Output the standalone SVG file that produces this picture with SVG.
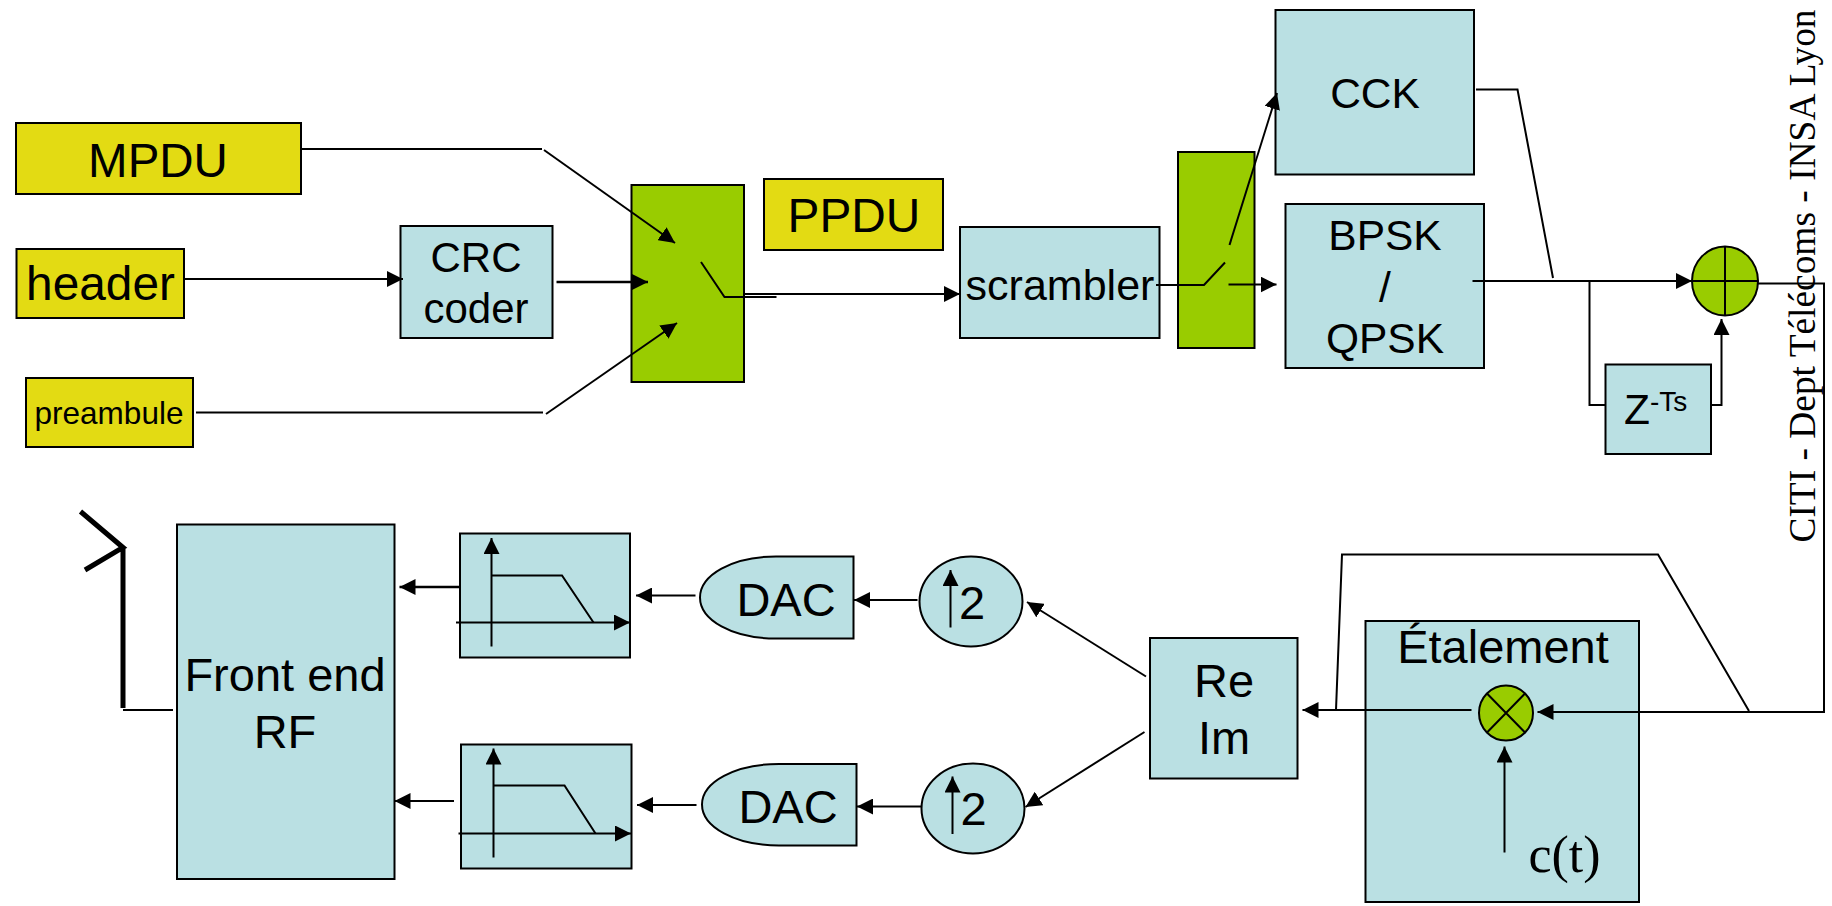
<svg xmlns="http://www.w3.org/2000/svg" width="1832" height="906" viewBox="0 0 1832 906">
<style>
text{font-family:"Liberation Sans",Arial,sans-serif;font-size:47px;fill:#000;text-anchor:middle}
.y{fill:#E3DB13;stroke:#000;stroke-width:2}
.b{fill:#BAE0E3;stroke:#000;stroke-width:2}
.g{fill:#99CC00;stroke:#000;stroke-width:2}
.l{fill:none;stroke:#000;stroke-width:2}
.a{marker-end:url(#h)}
.t{stroke-width:2.500}
.m{font-size:42.500px}
</style>
<defs>
<marker id="h" markerUnits="userSpaceOnUse" markerWidth="18" markerHeight="16" refX="16" refY="8" orient="auto"><path d="M0 0L16 8L0 16Z" fill="#000"/></marker>
</defs>
<rect width="1832" height="906" fill="#fff"/>
<g id="mpdu"><rect class="y" x="16" y="123" width="285" height="71"/><text x="158" y="177" style="font-size:47.500px">MPDU</text></g>
<g id="header"><rect class="y" x="16.500" y="249" width="167.500" height="69"/><text x="100.500" y="300" style="font-size:47.800px">header</text></g>
<g id="preambule"><rect class="y" x="26" y="378" width="167" height="69"/><text x="109" y="424" style="font-size:31.500px">preambule</text></g>
<g id="crc"><rect class="b" x="400.500" y="226" width="152" height="112"/><text x="476" y="272" style="font-size:42px">CRC</text><text x="476" y="323" style="font-size:42px">coder</text></g>
<g id="mux1"><rect class="g" x="631.500" y="185" width="112.500" height="197"/></g>
<g id="ppdu"><rect class="y" x="764" y="179" width="179" height="71"/><text x="854" y="232" style="font-size:47.800px">PPDU</text></g>
<g id="scrambler"><rect class="b" x="960" y="227" width="199.500" height="111"/><text x="1060" y="300" style="font-size:43px">scrambler</text></g>
<g id="mux2"><rect class="g" x="1178" y="152" width="76.500" height="196"/></g>
<g id="cck"><rect class="b" x="1275.500" y="10" width="198.500" height="164.500"/><text class="m" x="1375" y="108">CCK</text></g>
<g id="bpsk"><rect class="b" x="1285.500" y="204" width="198.500" height="164"/><text class="m" x="1385" y="250">BPSK</text><text class="m" x="1385" y="302">/</text><text class="m" x="1385" y="353">QPSK</text></g>
<g id="adder"><ellipse class="g" cx="1725" cy="281" rx="33" ry="34.500"/><path class="l" d="M1692 281H1758M1725 246.500V315.500"/></g>
<g id="delay"><rect class="b" x="1605.500" y="364.500" width="105.500" height="89.500"/><text class="m" x="1624" y="424" style="text-anchor:start">Z<tspan dy="-13" style="font-size:28px">-Ts</tspan></text></g>
<g id="front-end"><rect class="b" x="177" y="524.500" width="217.500" height="354.500"/><text x="285" y="691">Front end</text><text x="285" y="748">RF</text></g>
<g id="antenna"><path d="M80.500 511.500L123 547.500L85 570M123 547.500V708" fill="none" stroke="#000" stroke-width="5"/></g>
<g id="filter1"><rect class="b" x="460" y="533.500" width="170" height="124"/><path class="l a" d="M491.500 646.500V538"/><path class="l a" d="M456 622.500H630"/><path class="l" d="M491.500 575.500H562L593.500 622.500"/></g>
<g id="filter2"><rect class="b" x="461" y="744.500" width="170.500" height="124"/><path class="l a" d="M493.500 857.500V748.500"/><path class="l a" d="M458.500 833.500H631"/><path class="l" d="M493.500 785.500H564.500L595.500 833.500"/></g>
<g id="dac1"><path class="b" d="M853.500 556.500V638.500H776C732 638.500 700 620 700 597.500S732 556.500 776 556.500Z"/><text x="786" y="616">DAC</text></g>
<g id="dac2"><path class="b" d="M856.500 764V845.500H779C735 845.500 702 827 702 804.500S735 764 779 764Z"/><text x="788" y="823">DAC</text></g>
<g id="up1"><ellipse class="b" cx="971" cy="601.500" rx="51.500" ry="45"/><path class="l a" d="M950.500 627.500V570"/><text x="959" y="619" style="text-anchor:start">2</text></g>
<g id="up2"><ellipse class="b" cx="973" cy="808.500" rx="51.500" ry="45"/><path class="l a" d="M952.500 834V776.500"/><text x="960.500" y="825" style="text-anchor:start">2</text></g>
<g id="reim"><rect class="b" x="1150" y="638" width="147.500" height="140.500"/><text x="1224" y="697">Re</text><text x="1224" y="754">Im</text></g>
<g id="etalement"><rect class="b" x="1365.500" y="621" width="273.500" height="281"/><text x="1503" y="663">Étalement</text><text x="1564.500" y="872" style="font-family:'Liberation Serif',serif;font-size:52px">c(t)</text></g>
<g id="mult"><ellipse class="g" cx="1506" cy="713" rx="27" ry="27.500"/><path class="l" d="M1487 693.500L1525 732.500M1525 693.500L1487 732.500"/></g>
<g id="watermark"><text transform="translate(1815 276) rotate(-90)" style="font-family:'Liberation Serif',serif;font-size:37.400px">CITI - Dept Télécoms - INSA Lyon</text></g>
<g id="connectors">
<path class="l" d="M301 149H542"/><path class="l a" d="M544 150L675 243"/>
<path class="l a" d="M185 279H403"/><path class="l a t" d="M556.500 282H648"/>
<path class="l" d="M196 412.500H543"/><path class="l a" d="M546 414L677 323"/>
<path class="l" d="M701 262L724.500 297H776.500"/><path class="l a" d="M744 294H960"/>
<path class="l" d="M1156 285H1204L1225 262.500"/><path class="l a" d="M1228.500 284.500H1276.500"/><path class="l a" d="M1229.500 245L1277 93"/>
<path class="l" d="M1476 89.500H1517.500L1553 278"/><path class="l a" d="M1472.500 281H1692"/>
<path class="l" d="M1589.500 281V405H1605.500"/><path class="l a" d="M1711 405H1721.500V319"/>
<path class="l a" d="M1758 283.500H1824V712H1537.500"/>
<path class="l" d="M1749 711L1658 554.500H1342L1336 710"/><path class="l a" d="M1471.500 710H1302.500"/>
<path class="l a" d="M1504.500 852.500V746.500"/>
<path class="l a" d="M1146 676.500L1027 602"/><path class="l a" d="M1144.500 732L1025.500 807"/>
<path class="l a" d="M917.500 600H854"/><path class="l a" d="M921 806.500H857"/>
<path class="l a" d="M695.500 595.500H636"/><path class="l a" d="M696.500 805H637"/>
<path class="l a t" d="M460 587H399.500"/><path class="l a" d="M454 801H394.500"/>
<path class="l" d="M123 710H173"/>
</g>
</svg>
